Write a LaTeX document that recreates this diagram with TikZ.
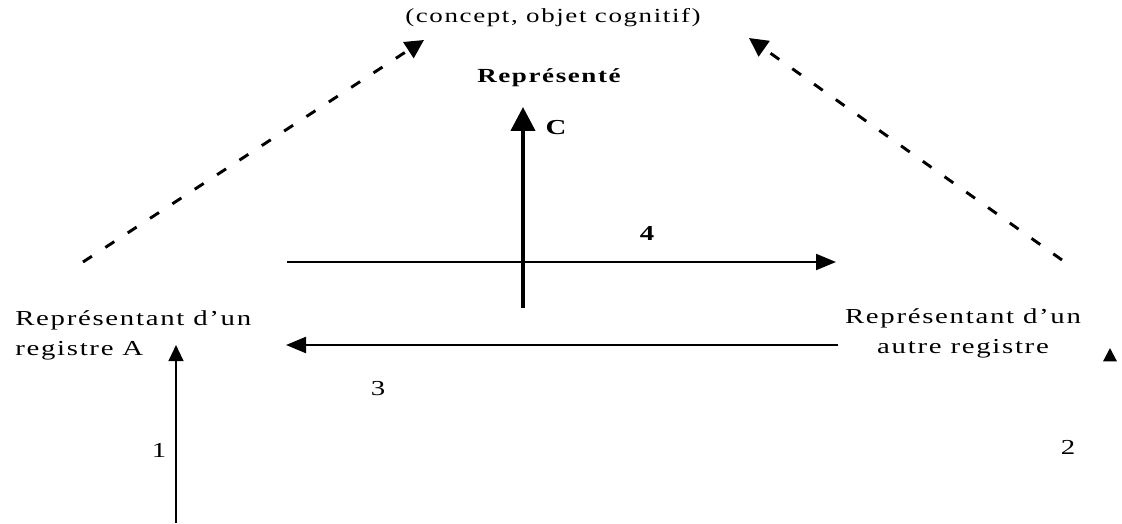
\documentclass[tikz,border=0pt]{standalone}
\usepackage{fontspec}
\setmainfont{Liberation Serif}[LetterSpace=8,FakeStretch=1.35]
\usetikzlibrary{arrows.meta}
\begin{document}
\begin{tikzpicture}[x=0.75pt,y=-0.75pt,
  txt/.style={inner sep=0pt,font=\fontsize{16}{23}\selectfont},
  lbl/.style={inner sep=0pt,font=\fontsize{16}{20}\selectfont},
  blbl/.style={inner sep=0pt,font=\fontsize{16}{20}\selectfont\bfseries},
  harrow/.style={line width=1.6pt,-{Triangle[length=15pt,width=12pt]}},
  dasharrow/.style={line width=2.2pt,dash pattern=on 8pt off 12pt,-{Triangle[length=14pt,width=14pt]}},
  thickarrow/.style={line width=3.2pt,-{Triangle[length=18pt,width=18pt]}},
  smallarrow/.style={line width=1.6pt,-{Triangle[length=10pt,width=10pt]}}]
\useasboundingbox (0,0) rectangle (1122,524);
% texts
\node[txt,font=\fontsize{15}{20}\selectfont] (concept) at (553,18) {(concept, objet cognitif)};
\node[txt,font=\fontsize{15}{20}\selectfont\bfseries] (repr) at (549,78) {Représenté};
\node[txt,anchor=north west,align=left] (repA) at (15,310) {Représentant d'un\\registre A};
\node[txt,anchor=north,align=center] (repB) at (963,308) {Représentant d'un\\autre registre};
% coordinates
\coordinate (dlS) at (83,262);
\coordinate (dlE) at (424,40);
\coordinate (drS) at (1062,260);
\coordinate (drE) at (749,38);
\coordinate (cS) at (523,308);
\coordinate (cE) at (523,107);
\coordinate (h4S) at (287,262);
\coordinate (h4E) at (836,262);
\coordinate (h3S) at (838,345);
\coordinate (h3E) at (286,345);
\coordinate (v1S) at (176,523);
\coordinate (v1E) at (176,345);
\coordinate (v2S) at (1110,360);
\coordinate (v2E) at (1110,348);
% arrows
\draw[dasharrow] (dlS) -- (dlE);
\draw[dasharrow] (drS) -- (drE);
\draw[thickarrow] (cS) -- (cE);
\draw[harrow] (h4S) -- (h4E);
\draw[harrow] (h3S) -- (h3E);
\draw[harrow,-{Triangle[length=12pt,width=11pt]}] (v1S) -- (v1E);
\draw[smallarrow] (v2S) -- (v2E);
% labels
\node[blbl] (lC) at (556,128) {C};
\node[blbl] (l4) at (647,233) {4};
\node[lbl] (l3) at (378,389) {3};
\node[lbl] (l1) at (159,450) {1};
\node[lbl] (l2) at (1068,447) {2};
\end{tikzpicture}
\end{document}
